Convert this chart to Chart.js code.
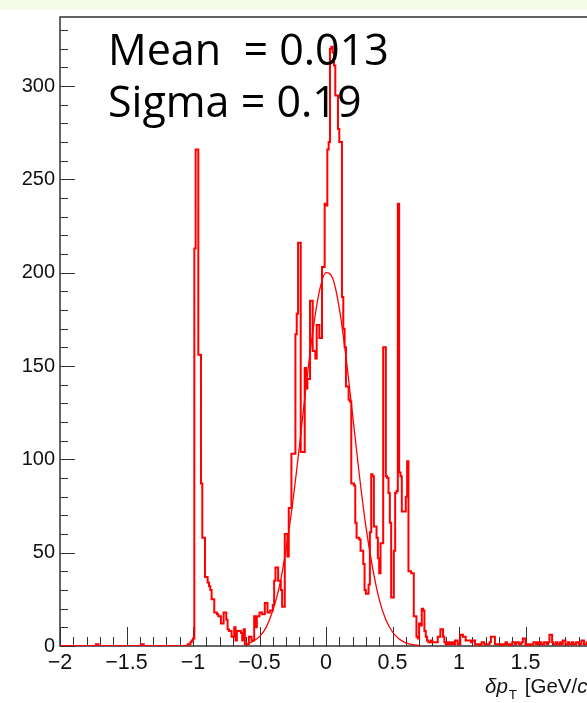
<!DOCTYPE html>
<html>
<head>
<meta charset="utf-8">
<script src="https://cdn.jsdelivr.net/npm/chart.js@4.4.0/dist/chart.umd.min.js"></script>
<style>
html,body{margin:0;padding:0;width:587px;height:703px;overflow:hidden;background:#fff;}
#band{position:absolute;left:0;top:0;width:587px;height:10px;background:#f6fae8;}
#wrap{position:absolute;left:0;top:0;width:640px;height:703px;}
</style>
</head>
<body>
<div id="band"></div>
<div id="wrap"><canvas id="c" width="640" height="703"></canvas></div>
<script>
// ---------------- DATA ----------------
// Histogram: 400 bins of width 0.01 on [-2, 2]; counts listed by low bin edge.
const histRange = [-2, 2];
const binsPerUnit = 100;

// -2.00 ... -1.05 (96 bins)
const countsLeftTail = [
  0,0,0,0,0,0,0,0,0,0,
  0,0,0,0,0,0,0,0,0,0,
  0,0,0,0,0,0,0,1,1,0,
  0,0,0,0,0,0,0,0,0,0,
  0,0,0,0,0,0,0,0,0,0,
  0,0,0,0,0,0,0,0,0,0,
  0,1,1,0,0,0,0,0,0,0,
  0,0,0,0,0,0,0,0,0,0,
  0,0,0,0,0,0,0,0,0,0,
  0,0,0,0,0,0
];
// -1.04 ... -0.01 (104 bins)
const countsNegative = [
  1,1,2,3,4,213,266,266,156,156,
  87,58,58,37,37,34,32,30,25,25,
  18,18,17,16,16,12,12,18,18,14,
  9,8,8,5,5,10,3,8,8,8,
  7,3,9,1,1,1,5,5,3,3,
  16,10,16,16,18,18,17,17,23,23,
  18,18,19,19,22,35,42,42,35,35,
  30,21,21,60,60,48,74,74,103,103,
  103,167,178,216,216,104,104,104,149,138,
  143,143,185,185,158,158,154,172,172,165,
  165,203,203,237
];
// 0.00 ... 0.79 (80 bins)
const countsPositive = [
  236,266,270,320,321,318,311,295,295,277,
  270,270,187,170,160,139,139,132,131,87,
  87,86,66,58,58,57,51,51,44,30,
  28,28,33,61,92,91,64,64,58,47,
  39,55,55,160,160,91,90,82,66,26,
  26,51,82,83,237,93,91,72,72,72,
  80,99,40,40,39,39,16,16,5,4,
  12,11,20,19,8,5,3,2,2,3
];
// 0.80 ... 1.99 (120 bins)
const countsRightTail = [
  2,2,2,2,5,5,9,9,5,2,
  1,2,1,2,1,2,1,3,3,1,
  1,6,6,5,5,3,3,3,3,2,
  3,3,1,1,1,0,1,2,2,1,
  1,1,1,2,5,5,5,1,1,1,
  1,1,0,1,1,2,1,1,0,1,
  2,2,1,2,2,1,1,2,4,4,
  0,1,1,0,1,1,2,2,1,2,
  1,2,1,1,2,2,1,2,6,6,
  2,1,1,2,1,1,2,1,3,3,
  1,1,2,1,1,2,1,1,2,2,
  1,1,3,3,1,1,2,3,2,1
];

// Gaussian fit curve
const fitX = [-0.60,-0.55,-0.50,-0.45,-0.40,-0.35,-0.30,-0.25,-0.20,-0.15,-0.10,-0.05,0.00,
              0.05,0.10,0.15,0.20,0.25,0.30,0.35,0.40,0.45,0.50,0.55,0.60,0.65,0.70];
const fitY = [1,2.5,5,10,19,32,52,77,107,139,168,190,200,
              197,181,155,124,92,64,42,25,14,7.5,3.7,1.7,0.7,0.3];

// Axis ranges and ticks
const yAxisMax = 337;
const yMajorStep = 50, yMinorStep = 10;
const xMajorStep = 0.5, xMinorPerMajor = 5;

// Statistics box text
const statNames = ['Mean ', 'Sigma'];
const statValues = ['0.013', '0.19'];

// ---------------- BUILD ----------------
const counts = [...countsLeftTail, ...countsNegative, ...countsPositive, ...countsRightTail];
const lowEdge = i => (histRange[0] * binsPerUnit + i) / binsPerUnit;
const histOutline = [];
counts.forEach((c, i) => {
  histOutline.push({x: lowEdge(i), y: c});
  histOutline.push({x: lowEdge(i + 1), y: c});
});
const fitPoints = fitX.map((x, i) => ({x, y: fitY[i]}));

const minus = s => String(s).replace('-', '\u2212');

const axisDecor = {
  id: 'axisDecor',
  beforeDatasetsDraw(chart) {
    const {ctx, chartArea: a, scales} = chart;
    const xs = scales.x, ys = scales.y;
    ctx.save();
    ctx.strokeStyle = '#333';
    ctx.lineWidth = 1;
    ctx.beginPath();
    for (let k = 0; k * yMinorStep <= yAxisMax; k++) {
      const v = k * yMinorStep;
      const p = Math.round(ys.getPixelForValue(v)) + 0.5;
      const len = (v % yMajorStep === 0) ? 15 : 8;
      ctx.moveTo(a.left, p); ctx.lineTo(a.left + len, p);
    }
    const xMinor = xMajorStep / xMinorPerMajor;
    for (let k = 0; ; k++) {
      const v = histRange[0] + k * xMinor;
      if (v > histRange[1] + 1e-9) break;
      const p = Math.round(xs.getPixelForValue(v)) + 0.5;
      const len = (k % xMinorPerMajor === 0) ? 19 : 9;
      ctx.moveTo(p, a.bottom); ctx.lineTo(p, a.bottom - len);
    }
    ctx.stroke();
    ctx.lineWidth = 1.5;
    ctx.strokeStyle = '#333';
    ctx.strokeRect(a.left, a.top, a.right - a.left, a.bottom - a.top);
    ctx.restore();
  },
  afterDraw(chart) {
    const ctx = chart.ctx;
    ctx.save();
    ctx.fillStyle = '#000';
    ctx.textBaseline = 'alphabetic';
    ctx.textAlign = 'left';
    ctx.font = '43px "Open Sans"';
    ctx.fillText(statNames[0] + ' = ' + statValues[0], 108, 65);
    ctx.fillText(statNames[1] + ' = ' + statValues[1], 108, 117);

    // x-axis title: δp_T [GeV/c]
    let x = 485; const base = 693;
    ctx.fillStyle = '#111';
    ctx.font = 'italic 20.5px "Liberation Sans"';
    ctx.fillText('\u03B4p', x, base); x += ctx.measureText('\u03B4p').width;
    ctx.font = '13.5px "Liberation Sans"';
    ctx.fillText('T', x + 1, base + 6); x += ctx.measureText('T').width + 3;
    ctx.font = '20.5px "Liberation Sans"';
    ctx.fillText(' [GeV/', x, base); x += ctx.measureText(' [GeV/').width;
    ctx.font = 'italic 20.5px "Liberation Sans"';
    ctx.fillText('c', x, base); x += ctx.measureText('c').width;
    ctx.font = '20.5px "Liberation Sans"';
    ctx.fillText(']', x, base);
    ctx.restore();
  }
};

new Chart(document.getElementById('c'), {
  type: 'line',
  data: {
    datasets: [
      {
        label: 'fit',
        data: fitPoints,
        borderColor: '#ff0000',
        borderWidth: 1.3,
        pointRadius: 0,
        fill: false,
        cubicInterpolationMode: 'monotone'
      },
      {
        label: 'hist',
        data: histOutline,
        borderColor: '#ff0000',
        borderWidth: 2,
        pointRadius: 0,
        fill: false,
        tension: 0,
        borderJoinStyle: 'miter'
      }
    ]
  },
  options: {
    responsive: false,
    animation: false,
    devicePixelRatio: 1,
    layout: {padding: {top: 15, right: 48, bottom: 0, left: 0}},
    plugins: {legend: {display: false}, tooltip: {enabled: false}, title: {display: false}},
    scales: {
      x: {
        type: 'linear',
        min: histRange[0], max: histRange[1],
        grid: {display: false, drawTicks: false},
        border: {display: false},
        ticks: {
          stepSize: xMajorStep, autoSkip: false, maxRotation: 0, padding: 4,
          color: '#111', font: {family: 'Liberation Sans', size: 21.5},
          callback: v => minus(v)
        },
        afterFit(s) { s.height = 57; }
      },
      y: {
        type: 'linear',
        min: 0, max: yAxisMax,
        grid: {display: false, drawTicks: false},
        border: {display: false},
        ticks: {
          stepSize: yMajorStep, includeBounds: false, padding: 5,
          color: '#111', font: {family: 'Liberation Sans', size: 20},
          callback: v => String(v)
        },
        afterFit(s) { s.width = 60; }
      }
    }
  },
  plugins: [axisDecor]
});
</script>
</body>
</html>
